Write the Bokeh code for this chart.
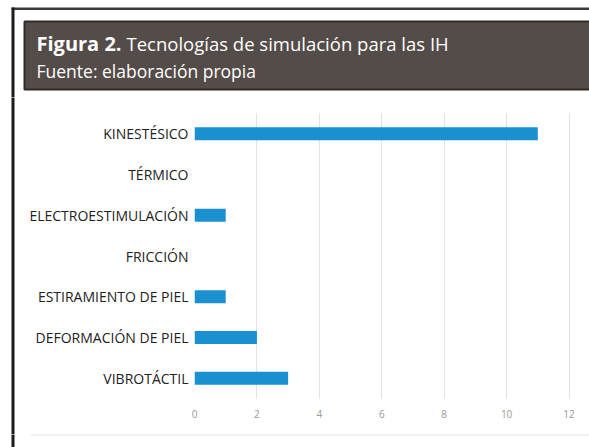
from bokeh.plotting import figure
from bokeh.layouts import column, row
from bokeh.models import FixedTicker, Range1d, FactorRange, ColumnDataSource
from bokeh.core.properties import value
from bokeh.embed import file_html
from bokeh.resources import INLINE

# ---------------- data ----------------
categories = ["VIBROTÁCTIL", "DEFORMACIÓN DE PIEL", "ESTIRAMIENTO DE PIEL",
              "FRICCIÓN", "ELECTROESTIMULACIÓN", "TÉRMICO", "KINESTÉSICO"]
values = [3, 2, 1, 0, 1, 0, 11]
x_ticks = [0, 2, 4, 6, 8, 10, 12]
title_bold = "Figura 2."
title_rest = "Tecnologías de simulación para las IH"
subtitle = "Fuente: elaboración propia"

W, H = 589, 447
HEAD_H = 97          # header strip height
BOT_H = 13           # bottom strip height
MID_H = H - HEAD_H - BOT_H
STRIP_W = 20

BAR = "#1b90d1"
BROWN = "#544c48"
BLACK = "#1c1c1c"
PANEL = "#e2e2e2"
FONT = "Open Sans"


def blank(w, h, x0, x1, y0, y1):
    f = figure(width=w, height=h, output_backend="svg", toolbar_location=None,
               x_range=Range1d(x0, x1), y_range=Range1d(y1, y0),
               x_axis_type=None, y_axis_type=None, frame_align=False,
               min_border=0, min_border_left=0, min_border_right=0,
               min_border_top=0, min_border_bottom=0)
    f.outline_line_color = None
    f.background_fill_color = "white"
    f.border_fill_color = "white"
    return f


# ---------------- header ----------------
hd = blank(W, HEAD_H, 0, W, 0, HEAD_H)
hd.quad(left=[11], right=[W + 2], top=[7], bottom=[9.5], fill_color="#3a3a3a", line_color=None)
hd.quad(left=[11], right=[14], top=[7], bottom=[HEAD_H + 1], fill_color=BLACK, line_color=None)
hd.quad(left=[24], right=[W + 5], top=[21], bottom=[89], fill_color=BROWN,
        line_color="#2f2a28", line_width=2)
hd.quad(left=[31], right=[W + 2], top=[96.5], bottom=[97.5], fill_color=PANEL, line_color=None)
hd.text(x=[36], y=[43], text=[title_bold], text_font=value(FONT), text_font_style="bold",
        text_font_size="20px", text_color="white", text_baseline="alphabetic")
hd.text(x=[126], y=[43], text=[title_rest], text_font=value(FONT),
        text_font_size="18.5px", text_color="white", text_baseline="alphabetic")
hd.text(x=[36], y=[70], text=[subtitle], text_font=value(FONT),
        text_font_size="17.5px", text_color="white", text_baseline="alphabetic")

# ---------------- left strip ----------------
ls = blank(STRIP_W, MID_H, 0, STRIP_W, HEAD_H, HEAD_H + MID_H)
ls.quad(left=[11], right=[14], top=[HEAD_H - 1], bottom=[HEAD_H + MID_H + 1],
        fill_color=BLACK, line_color=None)

# ---------------- chart ----------------
CW = W - STRIP_W
FL = 194 - STRIP_W
FT = 113 - HEAD_H
FRAME_H = 285
FB = MID_H - FT - FRAME_H
p = figure(width=CW, height=MID_H, output_backend="svg", toolbar_location=None,
           y_range=FactorRange(factors=categories), x_range=Range1d(0, 12.4),
           frame_align=False,
           min_border_left=FL, min_border_right=8, min_border_top=FT, min_border_bottom=FB)
p.background_fill_color = "white"
p.border_fill_color = "white"
p.outline_line_color = None

src = ColumnDataSource(dict(cat=categories, val=values))
p.hbar(y="cat", right="val", left=0, height=0.32, source=src,
       fill_color=BAR, line_color=None)

p.xaxis.ticker = FixedTicker(ticks=x_ticks)
p.xaxis.axis_line_color = None
p.xaxis.major_tick_line_color = None
p.xaxis.minor_tick_line_color = None
p.xaxis.major_tick_out = 0
p.xaxis.major_tick_in = 0
p.xaxis.major_label_standoff = 11
p.xaxis.major_label_text_font = FONT
p.xaxis.major_label_text_font_size = "10px"
p.xaxis.major_label_text_color = "#999999"

p.yaxis.axis_line_color = None
p.yaxis.major_tick_line_color = None
p.yaxis.minor_tick_line_color = None
p.yaxis.major_tick_out = 0
p.yaxis.major_tick_in = 0
p.yaxis.major_label_standoff = 6
p.yaxis.major_label_text_font = FONT
p.yaxis.major_label_text_font_size = "14px"
p.yaxis.major_label_text_color = "#222222"

p.xgrid.grid_line_color = "#e2e2e2"
p.ygrid.grid_line_color = None

# ---------------- bottom strip ----------------
bt = blank(W, BOT_H, 0, W, HEAD_H + MID_H, H)
bt.quad(left=[11], right=[14], top=[HEAD_H + MID_H - 1], bottom=[H + 1],
        fill_color=BLACK, line_color=None)
bt.quad(left=[30], right=[W + 2], top=[HEAD_H + MID_H - 0.5], bottom=[HEAD_H + MID_H + 1],
        fill_color=PANEL, line_color=None)

layout = column(hd, row(ls, p), bt)
open("out.html", "w").write(file_html(layout, INLINE))
